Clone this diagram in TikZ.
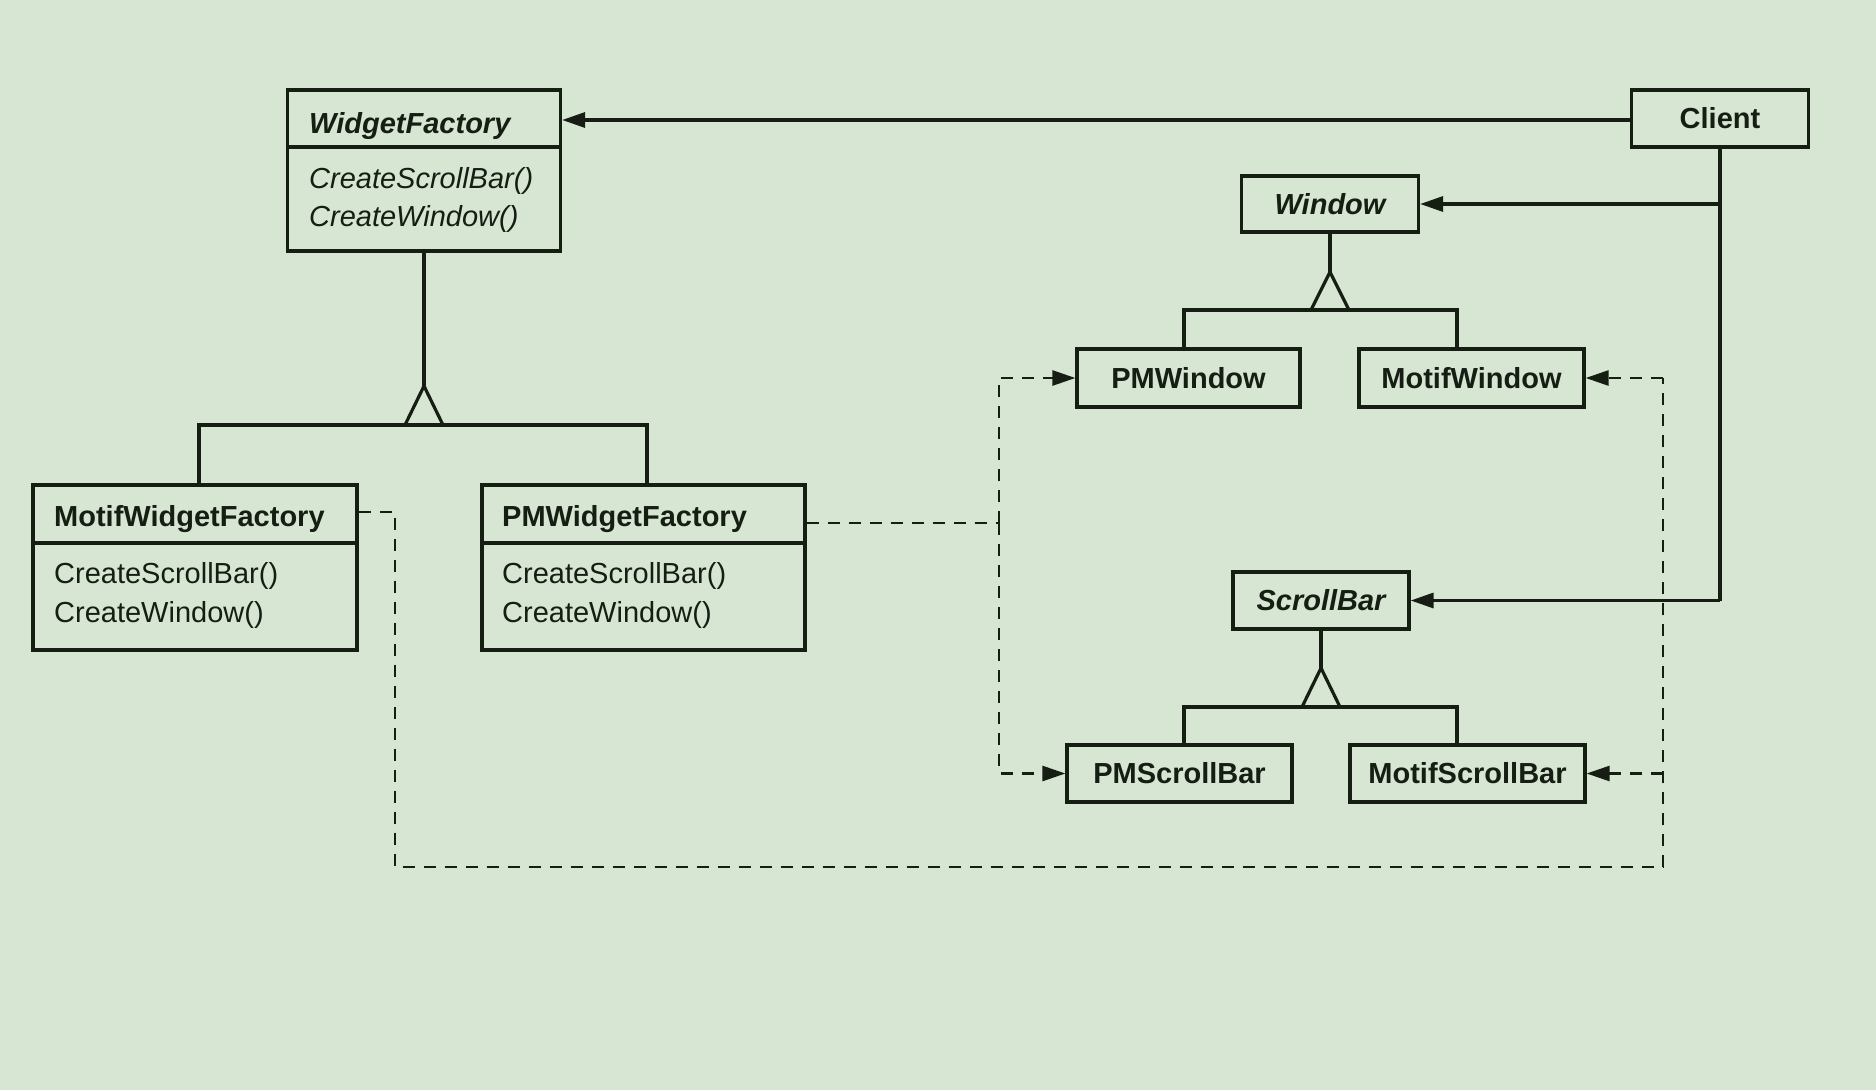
\documentclass[tikz,border=0pt]{standalone}
\usepackage{fontspec}
\setmainfont{Liberation Sans}
\usetikzlibrary{arrows.meta}
\definecolor{bg}{RGB}{215,229,211}
\definecolor{ink}{RGB}{22,30,20}
\begin{document}
\begin{tikzpicture}[x=1pt,y=-1pt,
  every node/.style={text=ink, font=\fontsize{29}{38}\selectfont},
  cls/.style={draw=ink, line width=3.2pt, rectangle, inner sep=0pt},
  title/.style={font=\fontsize{29}{38}\selectfont\bfseries},
  txt/.style={inner sep=0pt, anchor=base west},
  line/.style={draw=ink, line width=3.2pt},
  dep/.style={draw=ink, line width=2.6pt, dash pattern=on 12pt off 9pt},
  tip/.style={-{Triangle[length=23pt,width=15pt]}}
]
\fill[bg] (0,0) rectangle (1876,1090);
\useasboundingbox (0,0) rectangle (1876,1090);

% ---- class boxes ----
\node[cls, minimum width=273pt, minimum height=161pt] (WF) at (424,170.5) {};
\node[cls, minimum width=324pt, minimum height=165pt] (MWF) at (195,567.5) {};
\node[cls, minimum width=323pt, minimum height=165pt] (PMWF) at (643.5,567.5) {};

\node[cls, title, minimum width=177pt, minimum height=57pt] (Client) at (1720,118.5) {Client};
\node[cls, title, minimum width=177pt, minimum height=56pt] (Window) at (1330,204) {\itshape Window};
\node[cls, title, minimum width=223pt, minimum height=58pt] (PMWin) at (1188.5,378) {PMWindow};
\node[cls, title, minimum width=225pt, minimum height=58pt] (MotifWin) at (1471.5,378) {MotifWindow};
\node[cls, title, minimum width=176pt, minimum height=57pt] (SB) at (1321,600.5) {\itshape ScrollBar};
\node[cls, title, minimum width=225pt, minimum height=57pt] (PMSB) at (1179.5,773.5) {PMScrollBar};
\node[cls, title, minimum width=235pt, minimum height=57pt] (MotifSB) at (1467.5,773.5) {MotifScrollBar};

% ---- compartments and texts ----
\draw[line] (WF.west |- 0,147) -- (WF.east |- 0,147);
\node[txt, title] (WFt) at (309,133) {\itshape WidgetFactory};
\node[txt] (WFm1) at (309,188) {\itshape CreateScrollBar()};
\node[txt] (WFm2) at (309,226) {\itshape CreateWindow()};

\draw[line] (MWF.west |- 0,543) -- (MWF.east |- 0,543);
\node[txt, title] (MWFt) at (54,526) {MotifWidgetFactory};
\node[txt] (MWFm1) at (54,583) {CreateScrollBar()};
\node[txt] (MWFm2) at (54,622) {CreateWindow()};

\draw[line] (PMWF.west |- 0,543) -- (PMWF.east |- 0,543);
\node[txt, title] (PMWFt) at (502,526) {PMWidgetFactory};
\node[txt] (PMWFm1) at (502,583) {CreateScrollBar()};
\node[txt] (PMWFm2) at (502,622) {CreateWindow()};

% ---- inheritance: WidgetFactory ----
\coordinate (wfA) at (424,386);
\draw[line] (WF.south) -- (wfA);
\draw[line, line join=miter] (wfA) -- (405,425) -- (443,425) -- cycle;
\draw[line] (MWF.north -| 199,0) -- (199,425) -- (647,425) -- (PMWF.north -| 647,0);

% ---- inheritance: Window ----
\coordinate (wA) at (1330,272);
\draw[line] (Window.south) -- (wA);
\draw[line, line join=miter] (wA) -- (1311,310) -- (1349,310) -- cycle;
\draw[line] (PMWin.north -| 1184,0) -- (1184,310) -- (1457,310) -- (MotifWin.north -| 1457,0);

% ---- inheritance: ScrollBar ----
\coordinate (sA) at (1321,668);
\draw[line] (SB.south) -- (sA);
\draw[line, line join=miter] (sA) -- (1302,707) -- (1340,707) -- cycle;
\draw[line] (PMSB.north -| 1184,0) -- (1184,707) -- (1457,707) -- (MotifSB.north -| 1457,0);

% ---- client associations ----
\draw[line, tip] (Client.west |- 0,120) -- (WF.east |- 0,120);
\draw[line] (Client.south) -- (Client.south |- SB.east);
\draw[line, tip] (Client.south |- Window.east) -- (Window.east);
\draw[line, tip] (Client.south |- SB.east) -- (SB.east);

% ---- PM dependencies ----
\coordinate (pj) at (999,523);
\draw[dep] (PMWF.east |- pj) -- (pj);
\draw[dep, tip] (pj) |- (PMWin.west);
\draw[dep, tip] (pj) |- (PMSB.west);

% ---- Motif dependencies ----
\coordinate (mj1) at (395,512);
\coordinate (mj2) at (395,867);
\coordinate (mj3) at (1663,867);
\draw[dep] (MWF.east |- mj1) -- (mj1) -- (mj2) -- (mj3) -- (mj3 |- MotifWin.east);
\draw[dep, tip] (mj3 |- MotifWin.east) -- (MotifWin.east);
\draw[dep, tip] (mj3 |- MotifSB.east) -- (MotifSB.east);
\end{tikzpicture}
\end{document}
